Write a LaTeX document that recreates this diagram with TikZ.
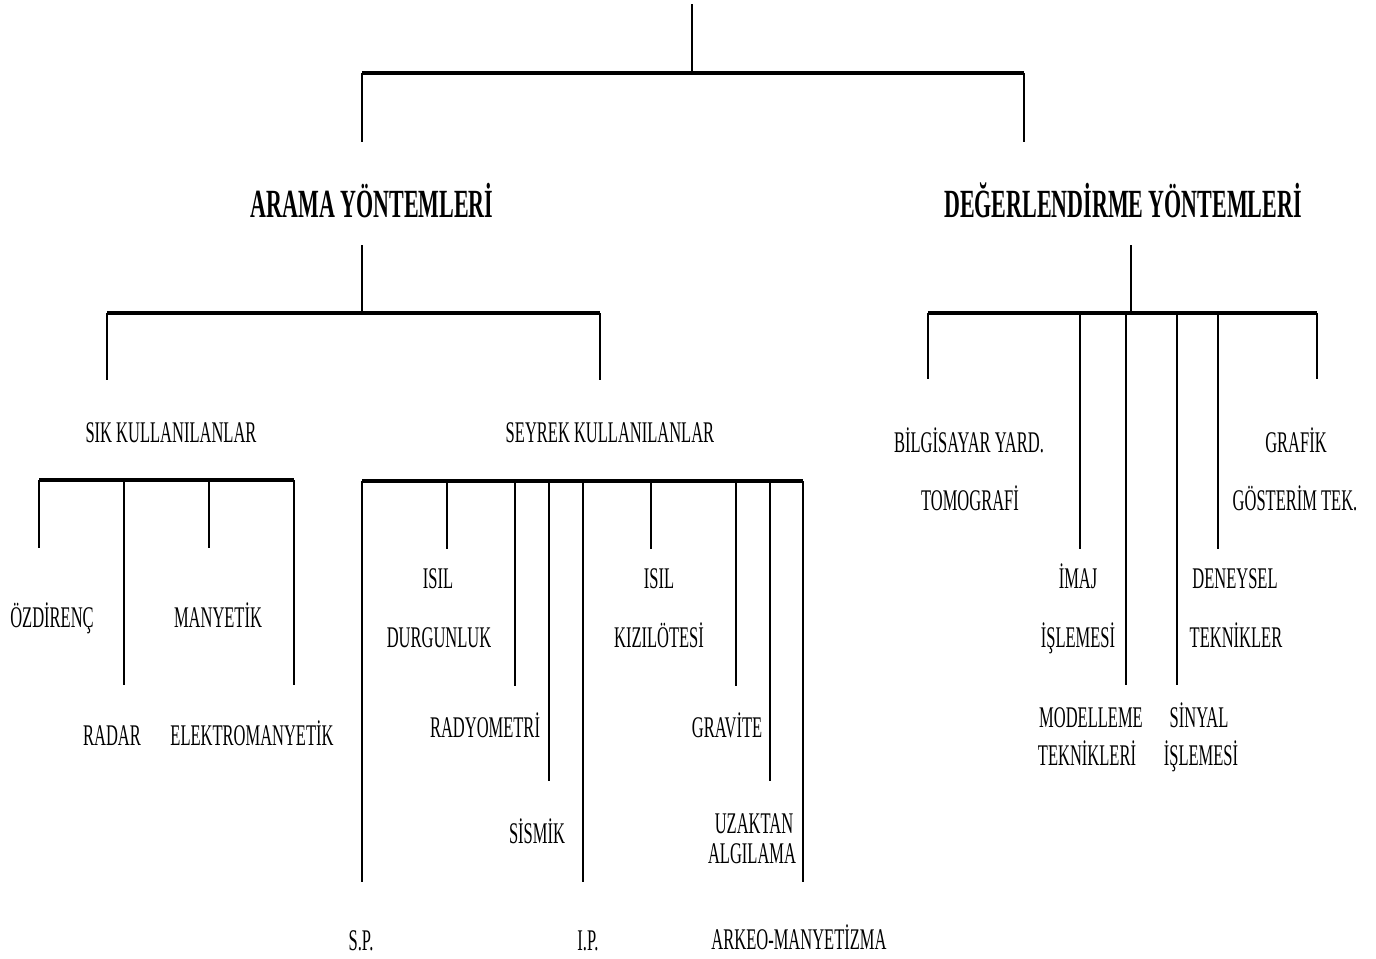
\documentclass[tikz,border=0pt]{standalone}
\usepackage{fontspec}
\setmainfont{Liberation Serif}[FakeStretch=0.55]

\tikzset{every picture/.style={line width=0.75pt}}
\tikzset{
  lbl/.style={anchor=base, inner sep=0.75pt, font=\fontsize{22.5}{26}\selectfont},
  ttl/.style={anchor=base, inner sep=0.75pt, font=\fontsize{30}{34}\selectfont\bfseries},
  bar/.style={line width=2.3pt},
  drop/.style={line width=1pt}
}

\begin{document}
\begin{tikzpicture}[x=0.75pt,y=0.75pt,yscale=-1,xscale=1]
	\path[use as bounding box] (0,0) rectangle (1376,958);

	% Text Node
	\node[ttl] (arama) at (372,217) {ARAMA YÖNTEMLERİ};
	% Text Node
	\node[ttl] (deger) at (1123,217) {DEĞERLENDİRME YÖNTEMLERİ};
	% Text Node
	\node[lbl] (sik) at (171,442) {SIK KULLANILANLAR};
	% Text Node
	\node[lbl] (seyrek) at (610,442) {SEYREK KULLANILANLAR};

	% Text Node
	\node[lbl] (ozdirenc) at (52,627) {ÖZDİRENÇ};
	\node[lbl] (manyetik) at (218,627) {MANYETİK};
	\node[lbl] (radar) at (112,745) {RADAR};
	\node[lbl] (elektro) at (252,745) {ELEKTROMANYETİK};

	% Text Node
	\node[lbl] (isilA) at (438,588) {ISIL};
	\node[lbl] (durgun) at (439,647) {DURGUNLUK};
	\node[lbl] (radyo) at (485,737) {RADYOMETRİ};
	\node[lbl] (sismik) at (537,843) {SİSMİK};
	\node[lbl] (isilB) at (659,588) {ISIL};
	\node[lbl] (kizil) at (659,647) {KIZILÖTESİ};
	\node[lbl] (gravite) at (727,737) {GRAVİTE};
	\node[lbl] (uzaktan) at (754,833) {UZAKTAN};
	\node[lbl] (algilama) at (752,863) {ALGILAMA};
	\node[lbl] (sp) at (361,950) {S.P.};
	\node[lbl] (ip) at (588,950) {I.P.};
	\node[lbl] (arkeo) at (799,949) {ARKEO-MANYETİZMA};

	% Text Node
	\node[lbl] (bilgi) at (969,452) {BİLGİSAYAR YARD.};
	\node[lbl] (tomo) at (970,510) {TOMOGRAFİ};
	\node[lbl] (grafik) at (1296,452) {GRAFİK};
	\node[lbl] (gosterim) at (1295,510) {GÖSTERİM TEK.};
	\node[lbl] (imaj) at (1078,588) {İMAJ};
	\node[lbl] (islemA) at (1078,647) {İŞLEMESİ};
	\node[lbl] (deney) at (1235,588) {DENEYSEL};
	\node[lbl] (teknik) at (1236,647) {TEKNİKLER};
	\node[lbl] (model) at (1091,727) {MODELLEME};
	\node[lbl] (teknikleri) at (1087,765) {TEKNİKLERİ};
	\node[lbl] (sinyal) at (1199,727) {SİNYAL};
	\node[lbl] (islemB) at (1201,765) {İŞLEMESİ};

	% Top level
	\coordinate (top) at (692,4);
	\coordinate (topbar) at (692,73);
	\coordinate (aramaup) at (362,142);
	\coordinate (degerup) at (1024,142);
	\draw[drop] (top) -- (topbar);
	\draw[bar] (aramaup |- topbar) -- (degerup |- topbar);
	\draw[drop] (aramaup |- topbar) -- (aramaup);
	\draw[drop] (degerup |- topbar) -- (degerup);

	% Arama yontemleri
	\coordinate (aramadown) at (362,245);
	\coordinate (aramabar) at (362,313);
	\coordinate (sikup) at (107,380);
	\coordinate (seyrekup) at (600,380);
	\draw[drop] (aramadown) -- (aramabar);
	\draw[bar] (sikup |- aramabar) -- (seyrekup |- aramabar);
	\draw[drop] (sikup |- aramabar) -- (sikup);
	\draw[drop] (seyrekup |- aramabar) -- (seyrekup);

	% Sik kullanilanlar
	\coordinate (sikbar) at (39,480);
	\draw[bar] (sikbar) -- (294,480);
	\foreach \n/\x/\y in {dOzd/39/548, dRad/124/685, dMan/209/548, dElk/294/685}{
		\coordinate (\n) at (\x,\y);
		\draw[drop] (\n |- sikbar) -- (\n);
	}

	% Seyrek kullanilanlar
	\coordinate (seyrekbar) at (362,481);
	\draw[bar] (seyrekbar) -- (803,481);
	\foreach \n/\x/\y in {dSp/362/882, dIsA/447/549, dRdy/515/686, dSis/549/781, dIp/583/882,
		dIsB/651/549, dGrv/736/686, dUzk/770/781, dArk/803/882}{
		\coordinate (\n) at (\x,\y);
		\draw[drop] (\n |- seyrekbar) -- (\n);
	}

	% Degerlendirme yontemleri
	\coordinate (degerdown) at (1131,245);
	\coordinate (degerbar) at (1131,313);
	\draw[drop] (degerdown) -- (degerbar);
	\draw[bar] (928,313) -- (1317,313);
	\foreach \n/\x/\y in {dBil/928/379, dImj/1080/549, dMod/1126/685, dSin/1177/685,
		dDen/1218/549, dGrf/1317/379}{
		\coordinate (\n) at (\x,\y);
		\draw[drop] (\n |- degerbar) -- (\n);
	}

\end{tikzpicture}
\end{document}
